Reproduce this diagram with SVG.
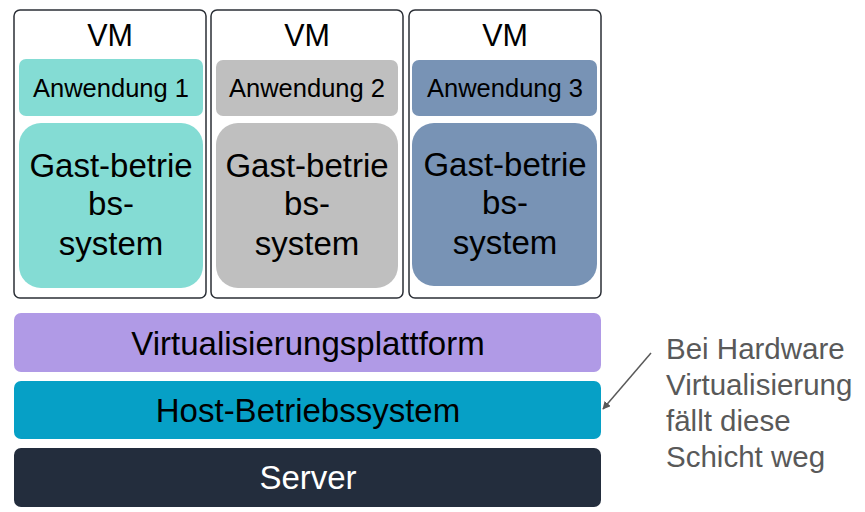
<svg xmlns="http://www.w3.org/2000/svg" width="865" height="512" viewBox="0 0 865 512">
<style>
text{font-family:"Liberation Sans",Arial,sans-serif;text-anchor:middle;fill:#000}
.vm{fill:#fff;stroke:#2b2f36;stroke-width:1.5}
.t-vm{font-size:30.5px}
.t-app{font-size:25.5px}
.t-os{font-size:33px}
.t-layer{font-size:33px}
.note{font-size:29.5px;fill:#595959;text-anchor:start}
</style>
<defs>
<marker id="ah" viewBox="0 0 10 10" refX="9" refY="5" markerWidth="8" markerHeight="8" orient="auto" markerUnits="userSpaceOnUse">
<path d="M0,0 L10,5 L0,10 z" fill="#595959"/>
</marker>
</defs>
<rect width="865" height="512" fill="#fff"/>
<g id="vm1">
<rect class="vm" x="14" y="10" width="192" height="288" rx="6"/>
<text class="t-vm" x="110" y="46">VM</text>
<rect x="19" y="59" width="184" height="57" rx="7" fill="#84dcd4"/>
<text class="t-app" x="111" y="97">Anwendung 1</text>
<rect x="19" y="123" width="184" height="165" rx="22" fill="#84dcd4"/>
<text class="t-os" x="111" y="177">Gast-betrie</text>
<text class="t-os" x="111" y="215">bs-</text>
<text class="t-os" x="111" y="255">system</text>
</g>
<g id="vm2">
<rect class="vm" x="211" y="10" width="192" height="288" rx="6"/>
<text class="t-vm" x="307" y="46">VM</text>
<rect x="216" y="60" width="182" height="56" rx="7" fill="#bfbfbf"/>
<text class="t-app" x="307" y="97">Anwendung 2</text>
<rect x="216" y="123" width="182" height="165" rx="22" fill="#bfbfbf"/>
<text class="t-os" x="307" y="177">Gast-betrie</text>
<text class="t-os" x="307" y="215">bs-</text>
<text class="t-os" x="307" y="255">system</text>
</g>
<g id="vm3">
<rect class="vm" x="409" y="10" width="192" height="288" rx="6"/>
<text class="t-vm" x="505" y="46">VM</text>
<rect x="412" y="60" width="185" height="56" rx="7" fill="#7893b5"/>
<text class="t-app" x="505" y="97">Anwendung 3</text>
<rect x="412" y="123" width="185" height="163" rx="22" fill="#7893b5"/>
<text class="t-os" x="505" y="176">Gast-betrie</text>
<text class="t-os" x="505" y="214">bs-</text>
<text class="t-os" x="505" y="254">system</text>
</g>
<g id="virt">
<rect x="14" y="313" width="587" height="59" rx="7" fill="#b09ae6"/>
<text class="t-layer" x="308" y="355">Virtualisierungsplattform</text>
</g>
<g id="host">
<rect x="14" y="381" width="587" height="58" rx="7" fill="#06a0c6"/>
<text class="t-layer" x="308" y="422">Host-Betriebssystem</text>
</g>
<g id="server">
<rect x="14" y="448" width="587" height="59" rx="7" fill="#232d3d"/>
<text class="t-layer" x="308" y="489" style="fill:#fff">Server</text>
</g>
<g id="note">
<text class="note" x="666" y="359">Bei Hardware</text>
<text class="note" x="666" y="395">Virtualisierung</text>
<text class="note" x="666" y="431">fällt diese</text>
<text class="note" x="666" y="467">Schicht weg</text>
</g>
<g id="connectors">
<line x1="651" y1="353" x2="603" y2="409" stroke="#595959" stroke-width="1.5" marker-end="url(#ah)"/>
</g>
</svg>
